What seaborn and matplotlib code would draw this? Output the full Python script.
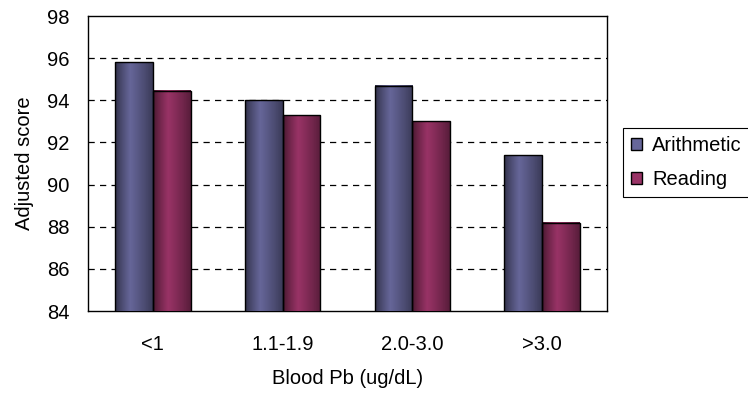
import numpy as np
import pandas as pd
import matplotlib
matplotlib.use("Agg")
import matplotlib.pyplot as plt
from matplotlib.patches import Rectangle
import matplotlib.colors as mcolors
import seaborn as sns

categories = ["<1", "1.1-1.9", "2.0-3.0", ">3.0"]
arithmetic = [95.8, 94.0, 94.7, 91.4]
reading = [94.45, 93.3, 93.0, 88.2]
series = ["Arithmetic", "Reading"]
yticks = [84, 86, 88, 90, 92, 94, 96, 98]

df = pd.DataFrame({
    "Blood Pb": categories * 2,
    "score": arithmetic + reading,
    "series": [series[0]] * 4 + [series[1]] * 4,
})

base = {"Arithmetic": "#666699", "Reading": "#993366"}

sns.set_theme(style="white")
plt.rcParams["font.family"] = ["Liberation Sans", "DejaVu Sans"]
plt.rcParams["text.color"] = "black"
plt.rcParams["axes.labelcolor"] = "black"
plt.rcParams["xtick.color"] = "black"
plt.rcParams["ytick.color"] = "black"

FS = 14.5
YMIN, YMAX = 84, 98

fig = plt.figure(figsize=(7.48, 3.96), dpi=100)
ax = fig.add_axes([88 / 748, 1 - 311 / 396, (607 - 88) / 748, (311 - 16) / 396])

sns.barplot(data=df, x="Blood Pb", y="score", hue="series", order=categories,
            hue_order=series, palette=base, width=0.58, ax=ax,
            edgecolor="black", linewidth=1.0, legend=False, zorder=3)

ax.set_ylim(YMIN, YMAX)
ax.set_xlim(-0.5, 3.5)


def gradient(col, n=64):
    c = np.array(mcolors.to_rgb(col))
    dark = c * 0.45
    t = np.linspace(0, 1, n)
    w = np.where(t < 0.4, t / 0.4, 1 - (t - 0.4) / 0.6 * 0.85)
    w = np.clip(w, 0, 1) ** 0.8
    arr = dark[None, :] * (1 - w[:, None]) + c[None, :] * w[:, None]
    return arr[None, :, :]


bars = [p for p in ax.patches if isinstance(p, Rectangle) and p.get_height() > 0]
for p in bars:
    rgb = np.array(mcolors.to_rgb(p.get_facecolor()))
    da = np.abs(rgb - np.array(mcolors.to_rgb(base["Arithmetic"]))).sum()
    dr = np.abs(rgb - np.array(mcolors.to_rgb(base["Reading"]))).sum()
    col = base["Arithmetic"] if da < dr else base["Reading"]
    x0 = p.get_x()
    x1 = x0 + p.get_width()
    y1 = p.get_y() + p.get_height()
    ax.imshow(gradient(col), extent=[x0, x1, YMIN, y1], aspect="auto",
              zorder=2.9, interpolation="bilinear")
    p.set_facecolor("none")
    p.set_zorder(3)

ax.set_ylim(YMIN, YMAX)
ax.set_xlim(-0.5, 3.5)
ax.set_aspect("auto")

ax.set_yticks(yticks)
ax.set_yticklabels([str(v) for v in yticks], fontsize=FS)
ax.tick_params(axis="y", length=0, pad=13.5)
ax.set_xticks(range(len(categories)))
ax.set_xticklabels(categories, fontsize=FS)
ax.tick_params(axis="x", which="major", length=0, pad=17)
ax.set_xticks([0.5, 1.5, 2.5], minor=True)
ax.tick_params(axis="x", which="minor", direction="in", length=6, width=1, color="#808080")

for v in yticks[1:-1]:
    ax.axhline(v, color="black", lw=0.9, ls=(0, (5, 4.2)), zorder=1)

for s in ax.spines.values():
    s.set_visible(True)
    s.set_color("black")
    s.set_linewidth(1.0)

ax.set_xlabel("Blood Pb (ug/dL)", fontsize=FS, labelpad=11)
ax.set_ylabel("Adjusted score", fontsize=FS, labelpad=9)

handles = [Rectangle((0, 0), 1, 1, facecolor=base[s], edgecolor="black", lw=1.0) for s in series]
leg = fig.legend(handles, series, loc="upper left",
                 bbox_to_anchor=(623 / 748, 1 - 128 / 396),
                 bbox_transform=fig.transFigure, fontsize=FS, frameon=True,
                 fancybox=False, framealpha=1, edgecolor="black",
                 handlelength=0.55, handleheight=0.55, handletextpad=0.5,
                 borderpad=0.4, labelspacing=0.75, borderaxespad=0)
leg.get_frame().set_linewidth(0.8)

fig.savefig("out.png", dpi=100)
